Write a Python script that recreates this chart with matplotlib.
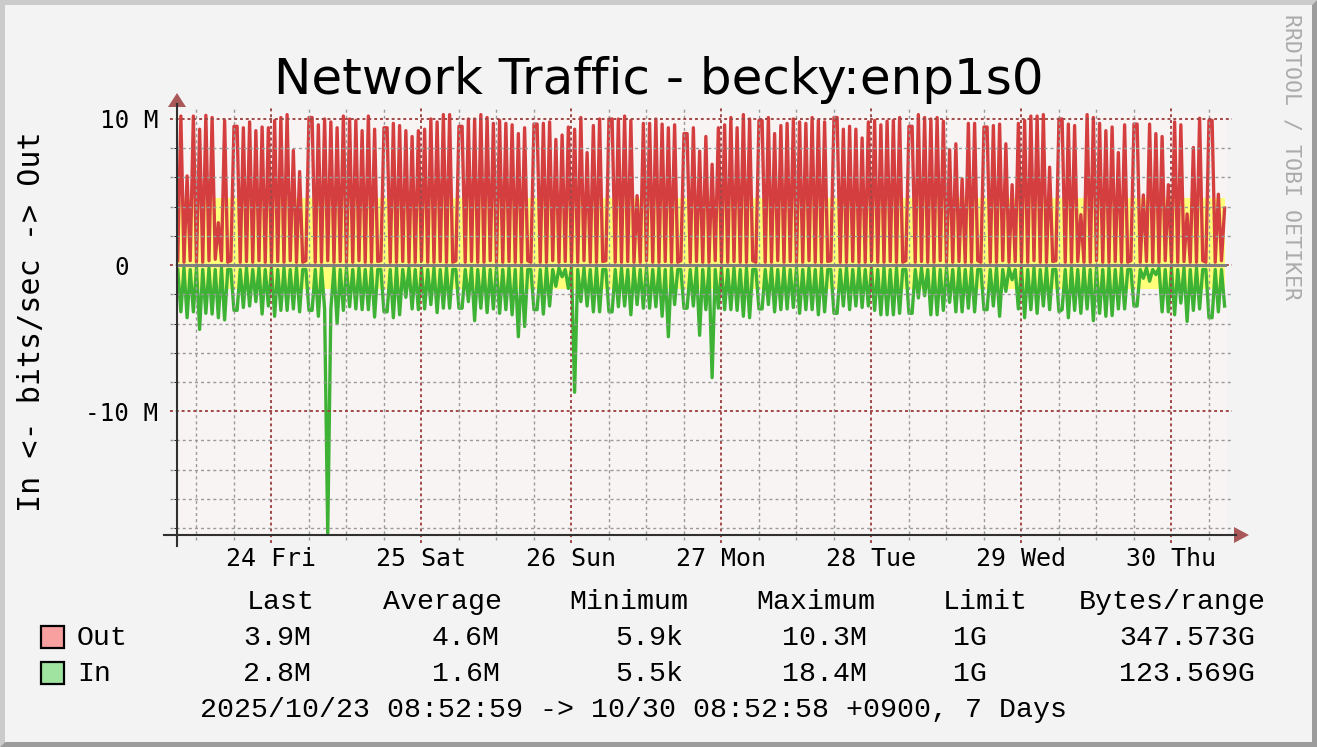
import numpy as np
import pandas as pd
import matplotlib
matplotlib.use("Agg")
import matplotlib.pyplot as plt
import matplotlib.dates as mdates
from matplotlib.ticker import MultipleLocator
from matplotlib.patches import Polygon, Rectangle
from matplotlib.transforms import Affine2D, ScaledTranslation

# ---------------- data ----------------
title = "Network Traffic - becky:enp1s0"
y_label = "In <- bits/sec -> Out"
watermark = "RRDTOOL / TOBI OETIKER"
start_time = "2025-10-23 08:52:59"
end_time = "2025-10-30 08:52:58"
first_sample = "2025-10-23 09:00:00"
sample_step = "30min"

# Outgoing traffic, Mbit/s, one value per 30 minutes
out_mbps = [
    0.3, 10.2, 0.2, 6.1, 0.3, 10.2, 0.2, 9.3, 0.2, 10.25, 0.3, 10.1, 0.4, 2.9, 0.3, 9.9, 0.2, 0.3,
    9.5, 9.5, 0.2, 9.4, 0.25, 9.8, 0.2, 9.2, 0.3, 9.45, 0.2, 9.4, 0.2, 9.9, 0.25, 10.1, 0.2, 10.3, 0.3, 7.85, 0.2, 6.4, 0.2, 0.3,
    10.1, 10.1, 0.2, 9.6, 0.2, 10.0, 0.3, 9.8, 0.2, 9.4, 0.25, 10.2, 0.2, 10.0, 0.2, 9.9, 0.3, 9.2, 0.2, 10.2, 0.2, 9.3, 0.25, 0.3,
    9.4, 9.4, 0.2, 9.7, 0.2, 9.55, 0.25, 9.2, 0.2, 8.8, 0.2, 9.2, 0.3, 9.3, 0.2, 10.0, 0.2, 9.8, 0.25, 10.3, 0.2, 10.3, 0.2, 0.3,
    9.5, 9.5, 0.2, 10.0, 0.25, 10.0, 0.2, 10.3, 0.2, 10.1, 0.3, 9.7, 0.2, 9.9, 0.2, 9.7, 0.25, 9.6, 0.2, 9.0, 0.2, 9.4, 0.3, 0.2,
    9.65, 9.65, 0.2, 9.7, 0.2, 9.8, 0.3, 8.6, 0.2, 8.9, 0.25, 9.45, 0.2, 9.3, 0.2, 10.1, 0.3, 7.7, 0.2, 9.55, 0.2, 10.0, 0.25, 0.3,
    10.0, 10.0, 0.2, 10.0, 0.2, 10.2, 0.25, 9.9, 0.2, 4.75, 0.2, 9.7, 0.3, 9.7, 0.2, 10.0, 0.2, 9.65, 0.25, 9.4, 0.2, 9.6, 0.2, 0.3,
    9.0, 9.0, 0.2, 9.4, 0.25, 7.8, 0.2, 8.8, 0.2, 6.9, 0.3, 9.4, 0.2, 9.6, 0.2, 10.1, 0.25, 9.4, 0.2, 10.3, 0.2, 10.0, 0.3, 0.2,
    9.9, 9.9, 0.2, 10.1, 0.2, 9.0, 0.3, 9.55, 0.2, 9.7, 0.25, 10.0, 0.2, 9.8, 0.2, 9.7, 0.3, 10.1, 0.2, 9.9, 0.2, 9.8, 0.25, 0.3,
    10.1, 10.1, 0.2, 9.3, 0.2, 9.5, 0.25, 9.3, 0.2, 8.7, 0.2, 9.8, 0.3, 9.9, 0.2, 9.6, 0.2, 9.85, 0.25, 9.9, 0.2, 10.1, 0.2, 0.3,
    9.5, 9.5, 0.2, 10.3, 0.25, 10.1, 0.2, 10.0, 0.2, 10.1, 0.3, 9.85, 0.2, 7.9, 0.2, 8.3, 0.25, 5.9, 0.2, 9.7, 0.2, 9.7, 0.3, 0.2,
    9.45, 9.45, 0.2, 9.55, 0.2, 9.65, 0.3, 8.3, 0.2, 5.5, 0.25, 9.7, 0.2, 9.9, 0.2, 10.2, 0.3, 10.2, 0.2, 10.3, 0.2, 6.7, 0.25, 0.3,
    10.0, 10.0, 0.2, 9.65, 0.2, 9.55, 0.25, 3.45, 0.2, 10.3, 0.2, 10.1, 0.3, 9.7, 0.2, 9.2, 0.2, 9.45, 0.25, 7.7, 0.2, 9.6, 0.2, 0.3,
    9.65, 9.65, 0.2, 4.8, 0.25, 9.65, 0.2, 9.0, 0.2, 8.8, 0.3, 5.5, 0.2, 9.8, 0.2, 9.6, 0.25, 3.5, 0.2, 8.05, 0.2, 10.05, 0.3, 0.2,
    9.9, 9.9, 0.2, 4.85, 0.3, 3.9,
]

# Incoming traffic, Mbit/s (drawn downward), one value per 30 minutes
in_mbps = [
    0.3, 3.2, 0.2, 3.6, 0.3, 3.2, 0.2, 4.4, 0.3, 3.3, 0.2, 3.35, 0.3, 3.6, 0.2, 3.75, 0.3, 0.3,
    3.1, 3.1, 0.3, 2.9, 0.2, 2.8, 0.3, 2.5, 0.2, 3.35, 0.3, 2.8, 0.2, 3.5, 0.3, 3.1, 0.2, 3.1, 0.3, 3.0, 0.2, 3.2, 0.3, 0.3,
    3.1, 3.1, 0.3, 3.5, 0.2, 3.0, 18.4, 3.0, 0.2, 4.0, 0.3, 3.1, 0.2, 2.85, 0.3, 3.0, 0.2, 3.05, 0.3, 3.05, 0.2, 3.55, 0.3, 0.3,
    3.2, 3.2, 0.3, 3.6, 0.2, 3.4, 0.3, 2.2, 0.2, 3.0, 0.3, 3.05, 0.2, 3.0, 0.3, 2.7, 0.2, 3.25, 0.3, 2.95, 0.2, 2.95, 0.3, 0.3,
    2.95, 2.95, 0.3, 2.5, 0.2, 3.8, 0.3, 2.95, 0.2, 3.25, 0.3, 3.0, 0.2, 3.3, 0.3, 3.05, 0.2, 3.4, 0.3, 4.9, 0.2, 4.2, 0.3, 0.3,
    3.05, 3.05, 0.3, 3.35, 0.2, 2.8, 0.3, 1.45, 0.2, 0.8, 0.3, 1.6, 0.2, 8.7, 0.3, 2.5, 0.2, 2.8, 0.3, 3.2, 0.2, 3.2, 0.3, 0.3,
    3.2, 3.2, 0.3, 2.85, 0.2, 2.8, 0.3, 3.4, 0.2, 2.7, 0.3, 2.95, 0.2, 2.95, 0.3, 2.85, 0.2, 3.5, 0.3, 4.9, 0.2, 2.7, 0.3, 0.3,
    2.95, 2.95, 0.3, 2.8, 0.2, 4.8, 0.3, 3.05, 0.2, 7.7, 0.3, 2.95, 0.2, 3.05, 0.3, 3.05, 0.2, 3.1, 0.3, 3.5, 0.2, 3.6, 0.3, 0.3,
    3.0, 3.0, 0.3, 2.7, 0.2, 3.2, 0.3, 3.05, 0.2, 3.0, 0.3, 2.9, 0.2, 3.3, 0.3, 3.05, 0.2, 3.05, 0.3, 3.4, 0.2, 3.2, 0.3, 0.3,
    3.3, 3.3, 0.3, 2.8, 0.2, 3.05, 0.3, 2.8, 0.2, 2.9, 0.3, 2.8, 0.2, 3.1, 0.3, 3.4, 0.2, 3.4, 0.3, 3.4, 0.2, 3.3, 0.3, 0.3,
    3.3, 3.3, 0.3, 2.25, 0.2, 2.1, 0.3, 3.4, 0.2, 3.4, 0.3, 3.1, 0.2, 2.55, 0.3, 3.2, 0.2, 3.2, 0.3, 2.95, 0.2, 3.2, 0.3, 0.3,
    3.05, 3.05, 0.3, 2.8, 0.2, 3.5, 0.3, 1.8, 0.2, 1.0, 0.3, 3.0, 0.2, 3.6, 0.3, 3.05, 0.2, 3.3, 0.3, 2.8, 0.2, 3.05, 0.3, 0.3,
    3.2, 3.05, 0.3, 3.6, 0.2, 3.1, 0.3, 3.3, 0.2, 3.0, 0.3, 3.8, 0.2, 3.3, 0.3, 3.5, 0.2, 3.45, 0.3, 3.0, 0.2, 3.0, 0.3, 0.3,
    2.8, 2.8, 0.3, 0.9, 0.2, 1.1, 0.3, 0.65, 0.2, 3.2, 0.3, 3.2, 0.2, 3.4, 0.3, 2.6, 0.2, 3.85, 0.3, 3.1, 0.2, 3.0, 0.3, 0.3,
    3.6, 3.6, 0.3, 3.2, 0.3, 2.8,
]

out_avg = 4.6
in_avg = 1.64

y_ticks = [-10, 0, 10]
y_tick_labels = ["-10 M", "0", "10 M"]

legend_headers = ["Last", "Average", "Minimum", "Maximum", "Limit", "Bytes/range"]
legend_series = ["Out", "In"]
out_stats = ["3.9M", "4.6M", "5.9k", "10.3M", "1G", "347.573G"]
in_stats = ["2.8M", "1.6M", "5.5k", "18.4M", "1G", "123.569G"]
footer = "2025/10/23 08:52:59 -> 10/30 08:52:58 +0900, 7 Days"

# ---------------- style ----------------
W, H, DPI = 1317, 747, 100
BG = "#F3F3F3"
CANVAS = "#F9F4F4"
OUT_COLOR = "#D43E3E"
IN_COLOR = "#3EB234"
AVG_COLOR = "#FFFF7A"
GRID_COLOR = "#9A9A9A"
MGRID_COLOR = "#A04848"
ARROW_COLOR = "#A85858"
AXIS_COLOR = "#303030"
MONO = "DejaVu Sans Mono"
LEG_FONT = "Liberation Mono"

fig = plt.figure(figsize=(W / DPI, H / DPI), dpi=DPI)
fig.patch.set_facecolor(BG)
pix = Affine2D().scale(1.0 / W, -1.0 / H).translate(0, 1) + fig.transFigure

# bevelled frame
fig.add_artist(Polygon([(0, 0), (W, 0), (W - 5, 5), (5, 5), (5, H - 5), (0, H)],
                       closed=True, transform=pix, facecolor="#CBCBCB", edgecolor="none"))
fig.add_artist(Polygon([(W, 0), (W, H), (0, H), (5, H - 5), (W - 5, H - 5), (W - 5, 5)],
                       closed=True, transform=pix, facecolor="#9C9C9C", edgecolor="none"))

PX0, PX1, PY0, PY1 = 177, 1227, 113, 535
ax = fig.add_axes([PX0 / W, 1 - PY1 / H, (PX1 - PX0) / W, (PY1 - PY0) / H])
ax.set_facecolor(CANVAS)
for s in ax.spines.values():
    s.set_visible(False)

times = pd.date_range(first_sample, periods=len(out_mbps), freq=sample_step)
out_v = np.array(out_mbps)
in_v = -np.array(in_mbps)

xlo, xhi = mdates.date2num(pd.Timestamp(start_time)), mdates.date2num(pd.Timestamp(end_time))
ylo, yhi = -18.47, 10.41
ax.set_xlim(xlo, xhi)
ax.set_ylim(ylo, yhi)

# average band
ax.fill_between(times, 0, out_avg, color=AVG_COLOR, lw=0, zorder=1)
ax.fill_between(times, -in_avg, 0, color=AVG_COLOR, lw=0, zorder=1)

ax.plot(times, out_v, color=OUT_COLOR, lw=2.4, solid_joinstyle="round", zorder=2)
ax.plot(times, in_v, color=IN_COLOR, lw=2.4, solid_joinstyle="round", zorder=2)

# locators
ax.xaxis.set_major_locator(mdates.DayLocator())
ax.xaxis.set_minor_locator(mdates.HourLocator(byhour=[0, 6, 12, 18]))
ax.xaxis.set_major_formatter(mdates.DateFormatter("%d %a"))
ax.yaxis.set_major_locator(MultipleLocator(10))
ax.yaxis.set_minor_locator(MultipleLocator(2))

w_ax = PX1 - PX0
h_ax = PY1 - PY0
xmaj = [v for v in ax.xaxis.get_majorticklocs() if xlo <= v <= xhi]
xmin_locs = [v for v in ax.xaxis.get_minorticklocs() if xlo <= v <= xhi]
ymaj = [v for v in ax.yaxis.get_majorticklocs() if ylo <= v <= yhi]
ymin_locs = [v for v in ax.yaxis.get_minorticklocs() if ylo <= v <= yhi]

for v in xmin_locs:
    if min(abs(v - m) for m in xmaj) > 1e-6:
        ax.axvline(v, ymin=-5 / h_ax, ymax=1 + 5 / h_ax, color=GRID_COLOR, lw=1.0,
                   dashes=(2.2, 2.2), clip_on=False, zorder=3)
for v in xmaj:
    ax.axvline(v, ymin=-8 / h_ax, ymax=1 + 5 / h_ax, color=MGRID_COLOR, lw=1.4,
               dashes=(1.5, 1.5), clip_on=False, zorder=3)
for v in ymin_locs:
    if abs(v / 10 - round(v / 10)) > 1e-6:
        ax.axhline(v, xmin=-7 / w_ax, xmax=1 + 5 / w_ax, color=GRID_COLOR, lw=1.0,
                   dashes=(2.2, 2.2), clip_on=False, zorder=3)
for v in ymaj:
    ax.axhline(v, xmin=-7 / w_ax, xmax=1 + 5 / w_ax, color=MGRID_COLOR, lw=1.4,
               dashes=(1.5, 1.5), clip_on=False, zorder=3)

# zero line
ax.axhline(0, color="#808080", lw=2.2, zorder=4)

# axis lines and arrows
fig.add_artist(plt.Line2D([164, 1236], [PY1, PY1], transform=pix, color=AXIS_COLOR, lw=1.5))
fig.add_artist(plt.Line2D([PX0, PX0], [546, 104], transform=pix, color=AXIS_COLOR, lw=1.5))
fig.add_artist(Polygon([(PX0, 93), (PX0 - 9, 107), (PX0 + 9, 107)], closed=True,
                       transform=pix, facecolor=ARROW_COLOR, edgecolor="none"))
fig.add_artist(Polygon([(1249, PY1), (1234, PY1 - 8), (1234, PY1 + 8)], closed=True,
                       transform=pix, facecolor=ARROW_COLOR, edgecolor="none"))

# tick labels
ax.set_yticks(y_ticks, labels=y_tick_labels)
ax.tick_params(axis="y", length=0, pad=13.5, labelsize=17.5, labelfontfamily=MONO)
ax.tick_params(axis="x", which="both", length=0, pad=9, labelsize=18, labelfontfamily=MONO)
for lbl in ax.get_yticklabels():
    if lbl.get_text() == "0":
        lbl.set_transform(lbl.get_transform() + ScaledTranslation(-0.29, 0, fig.dpi_scale_trans))

# title, y label, watermark
fig.text(659, 94, title, transform=pix, ha="center", va="baseline",
         fontsize=36, family="DejaVu Sans", color="black")
fig.text(32, 322, y_label, transform=pix, ha="center", va="center", rotation=90,
         fontsize=21.6, family=MONO, color="black")
fig.text(1292, 157, watermark, transform=pix, ha="center", va="center", rotation=270,
         fontsize=15.5, family=MONO, color="#ABABAB")

# legend
hdr_x = [247, 383, 569, 756, 943, 1079]
val_x = [243, 432, 615, 782, 953, 1119]
LFS = 20.3
for s, x in zip(legend_headers, hdr_x):
    fig.text(x, 609, s, transform=pix, ha="left", va="baseline", fontsize=LFS, family=LEG_FONT)
swatch_cols = ["#F8A0A0", "#A0E2A0"]
for row, (name, stats, col) in enumerate(zip(legend_series, [out_stats, in_stats], swatch_cols)):
    yb = 645 + 36 * row
    fig.add_artist(Rectangle((41, yb - 19), 23, 22, transform=pix, facecolor=col,
                             edgecolor="black", lw=1.6))
    fig.text(77, yb, name, transform=pix, ha="left", va="baseline", fontsize=LFS, family=LEG_FONT)
    for s, x in zip(stats, val_x):
        fig.text(x, yb, s, transform=pix, ha="left", va="baseline", fontsize=LFS, family=LEG_FONT)
fig.text(200, 717, footer, transform=pix, ha="left", va="baseline", fontsize=LFS, family=LEG_FONT)

fig.savefig("out.png", dpi=DPI, facecolor=BG)
